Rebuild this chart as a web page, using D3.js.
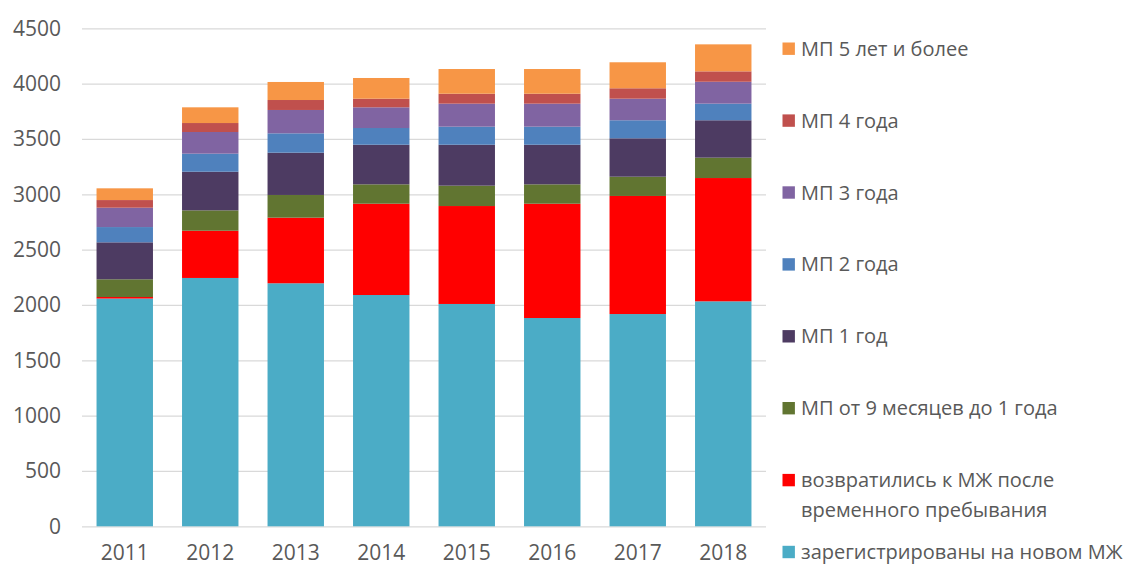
<!DOCTYPE html>
<html lang="ru">
<head>
<meta charset="UTF-8">
<title>Стек</title>
<script src="https://d3js.org/d3.v7.min.js"></script>
<style>
  body { margin: 0; background: #fff; }
  text { font-family: "Open Sans", "Noto Sans", sans-serif; fill: #595959; }
  .grid line { stroke: #d9d9d9; stroke-width: 1.3; }
  .grid path { display: none; }
  .axis path, .axis line { display: none; }
</style>
</head>
<body>
<svg id="chart" width="1138" height="566"></svg>
<script>
// годы
const years = ["2011", "2012", "2013", "2014", "2015", "2016", "2017", "2018"];

// серии снизу вверх
const seriesNames = [
  "зарегистрированы на новом МЖ",
  "возвратились к МЖ после временного пребывания",
  "МП от 9 месяцев до 1 года",
  "МП 1 год",
  "МП 2 года",
  "МП 3 года",
  "МП 4 года",
  "МП 5 лет и более"
];

const registered = [2058, 2244, 2196, 2090, 2009, 1882, 1918, 2033];
const returned   = [14, 427, 593, 825, 885, 1033, 1067, 1114];
const mp9m       = [160, 184, 205, 175, 184, 175, 174, 184];
const mp1        = [334, 349, 382, 358, 370, 358, 347, 338];
const mp2        = [138, 163, 175, 151, 163, 163, 163, 150];
const mp3        = [175, 196, 211, 187, 208, 208, 195, 198];
const mp4        = [69, 81, 90, 78, 90, 90, 94, 94];
const mp5        = [106, 142, 163, 187, 223, 223, 235, 244];

const yTicks = [0, 500, 1000, 1500, 2000, 2500, 3000, 3500, 4000, 4500];

const colors = ["#4BACC6", "#FF0000", "#617531", "#4D3B62", "#4F81BD", "#8064A2", "#C0504D", "#F79646"];

const seriesValues = [registered, returned, mp9m, mp1, mp2, mp3, mp4, mp5];
const table = years.map((y, i) => {
  const row = { year: y };
  seriesNames.forEach((s, k) => row[s] = seriesValues[k][i]);
  return row;
});

const plot = { left: 82, right: 766, top: 28.3, bottom: 526.3 };

const svg = d3.select("#chart");

const x = d3.scaleBand()
  .domain(years)
  .range([plot.left, plot.right])
  .paddingInner(0.34)
  .paddingOuter(0.17);

const y = d3.scaleLinear()
  .domain([0, 4500])
  .range([plot.bottom, plot.top]);

svg.append("g")
  .attr("class", "grid")
  .attr("transform", `translate(${plot.left},0)`)
  .call(d3.axisLeft(y).tickValues(yTicks).tickSize(-(plot.right - plot.left)).tickFormat(""));

svg.append("g")
  .attr("class", "axis")
  .attr("transform", `translate(${plot.left - 21},0)`)
  .call(d3.axisLeft(y).tickValues(yTicks).tickSize(0).tickPadding(0).tickFormat(d3.format("d")))
  .selectAll("text")
  .style("font-size", "21px")
  .attr("fill", "#595959");

svg.append("g")
  .attr("class", "axis")
  .attr("transform", `translate(0,${plot.bottom})`)
  .call(d3.axisBottom(x).tickSize(0).tickPadding(19))
  .selectAll("text")
  .style("font-size", "21px")
  .attr("fill", "#595959");

const stacked = d3.stack().keys(seriesNames)(table);

svg.append("g")
  .selectAll("g")
  .data(stacked)
  .join("g")
  .attr("fill", (d, i) => colors[i])
  .selectAll("rect")
  .data(d => d)
  .join("rect")
  .attr("x", d => x(d.data.year))
  .attr("y", d => y(d[1]))
  .attr("width", x.bandwidth())
  .attr("height", d => y(d[0]) - y(d[1]));

// легенда сверху вниз
const legendItems = [
  { k: 7, lines: ["МП 5 лет и более"] },
  { k: 6, lines: ["МП 4 года"] },
  { k: 5, lines: ["МП 3 года"] },
  { k: 4, lines: ["МП 2 года"] },
  { k: 3, lines: ["МП 1 год"] },
  { k: 2, lines: ["МП от 9 месяцев до 1 года"] },
  { k: 1, lines: ["возвратились к МЖ после", "временного пребывания"] },
  { k: 0, lines: ["зарегистрированы на новом МЖ"] }
];

const legend = svg.append("g");
legendItems.forEach((item, i) => {
  const cy = 48.7 + i * 71.9;
  legend.append("rect")
    .attr("x", 782.5).attr("y", cy - 6.2)
    .attr("width", 12.4).attr("height", 12.4)
    .attr("fill", colors[item.k]);
  item.lines.forEach((ln, j) => {
    legend.append("text")
      .attr("x", 801)
      .attr("y", cy + j * 30)
      .attr("dy", "0.35em")
      .style("font-size", "20px")
      .text(ln);
  });
});
</script>
</body>
</html>
